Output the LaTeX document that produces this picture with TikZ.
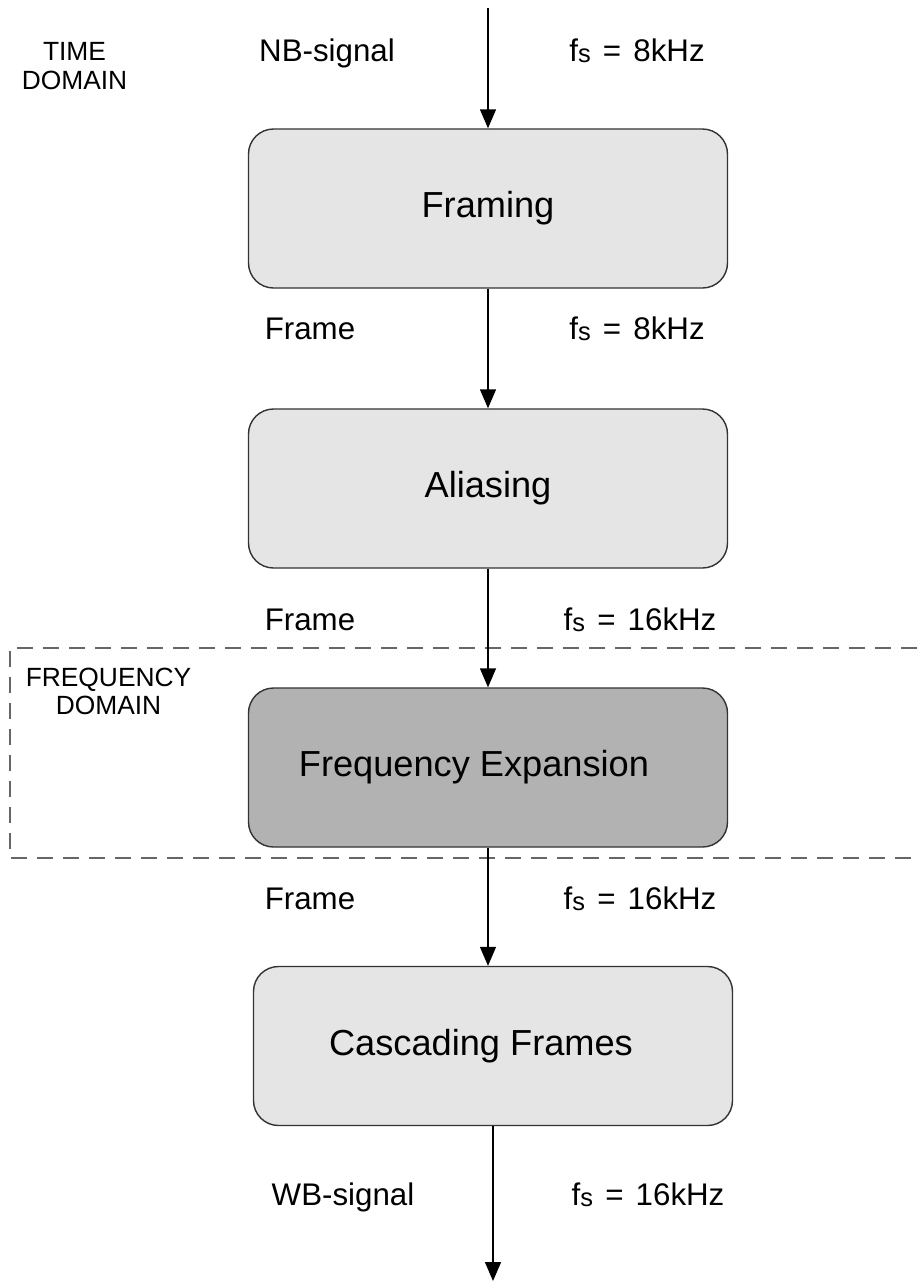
\documentclass[tikz,border=0pt]{standalone}
\usepackage{fontspec}
\setmainfont{Liberation Sans}
\usetikzlibrary{arrows.meta}

\newcommand{\fsrate}[1]{f\raisebox{-0.8pt}{\fontsize{14.5}{14.5}\selectfont s}\hspace{2pt} = \hspace{2pt}#1}

\begin{document}
\begin{tikzpicture}[
  block/.style={rectangle, rounded corners=0.5cm, draw=black!80, line width=0.8pt,
    fill=black!10, minimum width=9.58cm, minimum height=3.18cm,
    font=\fontsize{20.6}{24}\selectfont},
  tag/.style={inner sep=0pt, text height=0.716em, text depth=0pt,
    font=\fontsize{17.8}{21}\selectfont},
  zonetag/.style={inner sep=0pt, align=center, font=\fontsize{15}{16}\selectfont},
  flow/.style={-{Triangle[length=0.38cm, width=0.32cm]}, line width=0.8pt, draw=black}
]
\useasboundingbox (0,0) rectangle (18.34,-25.62);

\coordinate (in) at (9.76, -0.16);
\coordinate (out) at (9.86, -25.62);

\node [block] (framing) at (9.76, -4.17) {Framing};
\node [block] (aliasing) at (9.76, -9.77) {Aliasing};
\node [block, fill=black!30] (expansion) at (9.76, -15.35) {Frequency Expansion\kern0.56cm};
\node [block] (cascading) at (9.86, -20.92) {Cascading Frames\kern0.48cm};

%% signal and rate labels
\node [tag] (nb) at (6.54, -1.1) {NB-signal};
\node [tag] (rate1) at (12.74, -1.1) {\fsrate{8kHz}};
\node [tag] (frame1) at (6.2, -6.66) {Frame};
\node [tag] (rate2) at (12.74, -6.66) {\fsrate{8kHz}};
\node [tag] (frame2) at (6.2, -12.48) {Frame};
\node [tag] (rate3) at (12.8, -12.48) {\fsrate{16kHz}};
\node [tag] (frame3) at (6.2, -18.06) {Frame};
\node [tag] (rate4) at (12.8, -18.06) {\fsrate{16kHz}};
\node [tag] (wb) at (6.86, -23.98) {WB-signal};
\node [tag] (rate5) at (12.96, -23.98) {\fsrate{16kHz}};

\node [zonetag] (time) at (1.49, -1.32) {TIME\\DOMAIN};
\node [zonetag] (freq) at (2.17, -13.83) {FREQUENCY\\DOMAIN};

%% frequency domain region (open on the right)
\draw [dash pattern=on 0.32cm off 0.2cm, line width=1pt, draw=black!60]
  (18.34, -12.96) -- (0.2, -12.96) -- (0.2, -17.16) -- (18.34, -17.16);

\draw [flow] (in) to (framing);
\draw [flow] (framing) to (aliasing);
\draw [flow] (aliasing) to (expansion);
\draw [flow] (expansion.south) to (expansion.south |- cascading.north);
\draw [flow] (cascading.south -| out) to (out);

\end{tikzpicture}
\end{document}
